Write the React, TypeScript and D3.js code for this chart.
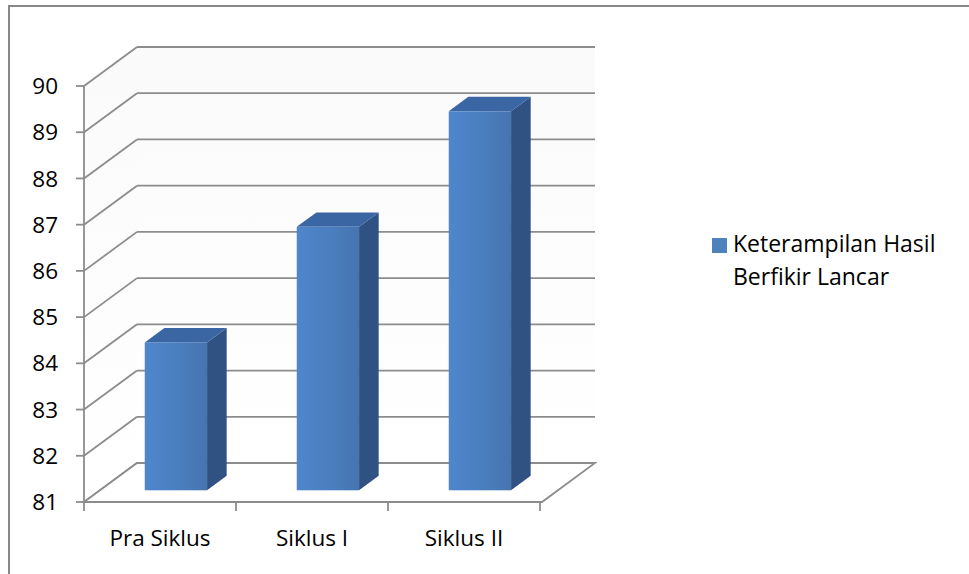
import React from "react";
import * as d3 from "d3";

const categories: string[] = ["Pra Siklus", "Siklus I", "Siklus II"];
const values: number[] = [84.2, 86.7, 89.2];
const seriesName: string[] = ["Keterampilan Hasil", "Berfikir Lancar"];
const yTicks: number[] = [81, 82, 83, 84, 85, 86, 87, 88, 89, 90];

const W = 969;
const H = 574;
const DX = 53; // full depth offset x
const DY = -39; // full depth offset y
const FONT = "'Open Sans', 'Noto Sans', sans-serif";
const GRID = "#8c8c8c";
const FS = 22.5;

export default function App() {
  const y = d3.scaleLinear().domain([81, 90]).range([502, 86]);
  const x = d3.scaleBand<string>().domain(categories).range([84, 540]).padding(0);
  const bw = x.bandwidth() * 0.41;
  const f0 = 0.3;
  const f1 = 0.67;

  const pts = (p: [number, number][]) => p.map((q) => q.join(",")).join(" ");
  const y0 = y(81);
  const yTop = y(90);
  const xL = x.range()[0];
  const xR = x.range()[1] + 2;

  return (
    <svg
      width={W}
      height={H}
      style={{ position: "absolute", left: 0, top: 0, background: "#fff" }}
      fontFamily={FONT}
    >
      <defs>
        <linearGradient id="front" x1="0" x2="1" y1="0" y2="0">
          <stop offset="0" stopColor="#4f86cc" />
          <stop offset="0.5" stopColor="#4a7fc0" />
          <stop offset="1" stopColor="#4674b0" />
        </linearGradient>
        <linearGradient id="wall" x1="0" x2="0" y1="0" y2="1">
          <stop offset="0" stopColor="#fafafa" />
          <stop offset="1" stopColor="#ffffff" />
        </linearGradient>
      </defs>
      {/* outer border */}
      <rect x={9} y={6} width={980} height={600} fill="none" stroke="#888" strokeWidth={2} />

      {/* walls */}
      <polygon
        points={pts([
          [xL, yTop],
          [xL, y0],
          [xL + DX, y0 + DY],
          [xL + DX, yTop + DY],
        ])}
        fill="url(#wall)"
      />
      <polygon
        points={pts([
          [xL + DX, yTop + DY],
          [xR + DX, yTop + DY],
          [xR + DX, y0 + DY],
          [xL + DX, y0 + DY],
        ])}
        fill="url(#wall)"
      />

      {/* gridlines */}
      {yTicks.map((t) => (
        <g key={t}>
          <line x1={xL} y1={y(t)} x2={xL + DX} y2={y(t) + DY} stroke={GRID} strokeWidth={1.8} />
          <line x1={xL + DX} y1={y(t) + DY} x2={xR + DX} y2={y(t) + DY} stroke={GRID} strokeWidth={1.8} />
        </g>
      ))}

      {/* floor */}
      <polygon
        points={pts([
          [xL, y0],
          [xR, y0],
          [xR + DX, y0 + DY],
          [xL + DX, y0 + DY],
        ])}
        fill="#fff"
        stroke={GRID}
        strokeWidth={1.8}
      />

      {/* bars */}
      {categories.map((c, i) => {
        const cx = (x(c) as number) + x.bandwidth() / 2;
        const l = cx - bw / 2 + f0 * DX;
        const r = l + bw;
        const top = y(values[i]) + f0 * DY;
        const bot = y(81) + f0 * DY;
        const ddx = (f1 - f0) * DX;
        const ddy = (f1 - f0) * DY;
        return (
          <g key={c}>
            <polygon
              points={pts([
                [r, top],
                [r + ddx, top + ddy],
                [r + ddx, bot + ddy],
                [r, bot],
              ])}
              fill="#2f5283"
            />
            <polygon
              points={pts([
                [l, top],
                [r, top],
                [r + ddx, top + ddy],
                [l + ddx, top + ddy],
              ])}
              fill="#3a66a3"
            />
            <rect x={l} y={top} width={bw} height={bot - top} fill="url(#front)" />
          </g>
        );
      })}

      {/* y axis */}
      <line x1={xL} y1={yTop} x2={xL} y2={y0} stroke={GRID} strokeWidth={1.8} />
      {yTicks.map((t) => (
        <g key={"yt" + t}>
          <line x1={76} y1={y(t)} x2={xL} y2={y(t)} stroke={GRID} strokeWidth={1.8} />
          <text x={58} y={y(t)} dy="0.36em" textAnchor="end" fontSize={FS} fill="#000">
            {t}
          </text>
        </g>
      ))}

      {/* x axis */}
      <line x1={xL} y1={y0} x2={xR} y2={y0} stroke={GRID} strokeWidth={1.8} />
      {[...categories.map((c) => x(c) as number), x.range()[1]].map((v, i) => (
        <line key={"xt" + i} x1={v} y1={y0} x2={v} y2={y0 + 9} stroke={GRID} strokeWidth={1.8} />
      ))}
      {categories.map((c) => (
        <text
          key={"xl" + c}
          x={(x(c) as number) + x.bandwidth() / 2}
          y={546}
          textAnchor="middle"
          fontSize={FS}
          fill="#000"
        >
          {c}
        </text>
      ))}

      {/* legend */}
      <rect x={712} y={238} width={15} height={15} fill="#4f81bd" />
      <text x={733} y={252} fontSize={FS + 0.5} fill="#000">
        {seriesName[0]}
      </text>
      <text x={733} y={285} fontSize={FS + 0.5} fill="#000">
        {seriesName[1]}
      </text>
    </svg>
  );
}
